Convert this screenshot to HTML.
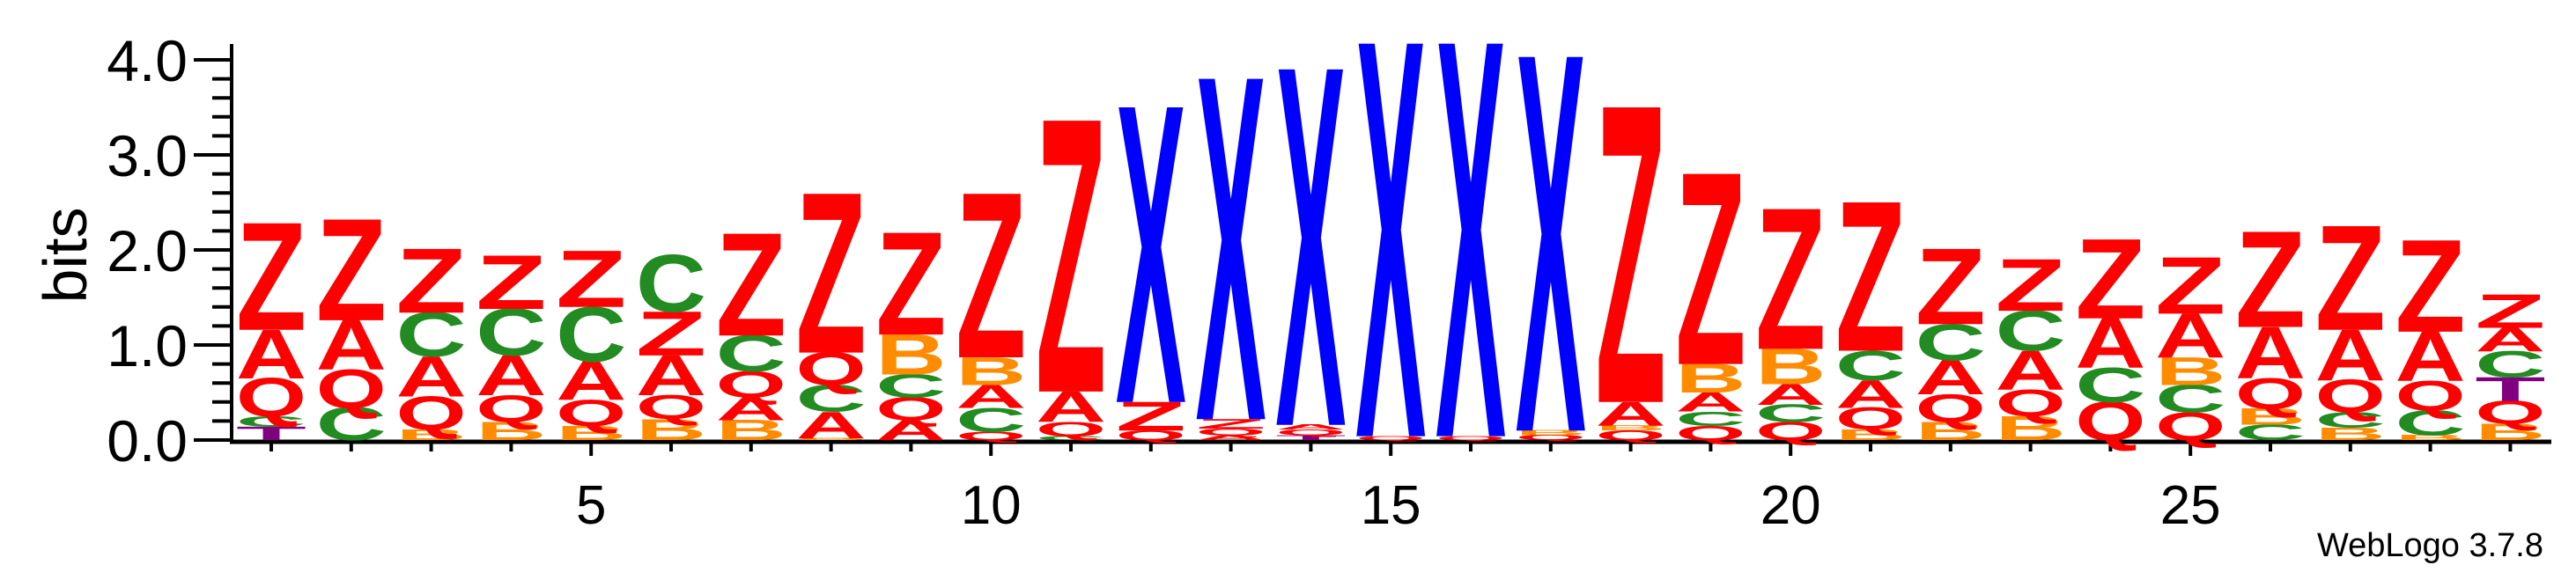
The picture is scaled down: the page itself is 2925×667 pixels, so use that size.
<!DOCTYPE html>
<html><head><meta charset="utf-8"><style>
html,body{margin:0;padding:0;background:#fff;}
svg{display:block;}
text{font-family:"Liberation Sans",Arial,sans-serif;}
</style></head><body>
<svg id="chart" width="2925" height="667" viewBox="0 0 2925 667" xmlns="http://www.w3.org/2000/svg">
<g id="axes"></g>
<g id="marks"></g>
<text x="0" y="0" font-size="70" text-anchor="middle" transform="translate(98,290) rotate(-90)">bits</text>
<text x="2888" y="632" font-size="38" text-anchor="end">WebLogo 3.7.8</text>
</svg>
<script>
// Letter stacks (bottom -> top) per position
const positions = [1,2,3,4,5,6,7,8,9,10,11,12,13,14,15,16,17,18,19,20,21,22,23,24,25,26,27,28,29];
const stackLetters = [
 ["T","C","Q","A","Z"],
 ["C","Q","A","Z"],
 ["B","Q","A","C","Z"],
 ["B","Q","A","C","Z"],
 ["B","Q","A","C","Z"],
 ["B","Q","A","Z","C"],
 ["B","A","Q","C","Z"],
 ["B","A","C","Q","Z"],
 ["A","Q","C","B","Z"],
 ["Q","C","A","B","Z"],
 ["C","Q","A","Z"],
 ["Q","Z","X"],
 ["A","Q","Z","X"],
 ["T","Q","A","X"],
 ["Q","X"],
 ["Q","X"],
 ["Q","B","X"],
 ["Q","B","A","Z"],
 ["Q","C","A","B","Z"],
 ["Q","C","A","B","Z"],
 ["B","Q","A","C","Z"],
 ["B","Q","A","C","Z"],
 ["B","Q","A","C","Z"],
 ["Q","C","A","Z"],
 ["Q","C","B","A","Z"],
 ["C","B","Q","A","Z"],
 ["B","C","Q","A","Z"],
 ["B","C","Q","A","Z"],
 ["B","Q","T","C","A","Z"]
];
const stackHeights = [
 [0.14,0.11,0.40,0.51,1.12],
 [0.34,0.40,0.52,1.06],
 [0.11,0.35,0.42,0.46,0.67],
 [0.19,0.28,0.42,0.49,0.56],
 [0.15,0.27,0.41,0.57,0.59],
 [0.22,0.25,0.42,0.46,0.59],
 [0.21,0.24,0.27,0.38,1.07],
 [0.02,0.28,0.28,0.34,1.67],
 [0.21,0.24,0.24,0.42,1.07],
 [0.09,0.25,0.24,0.29,1.72],
 [0.04,0.15,0.32,2.85],
 [0.10,0.30,3.10],
 [0.05,0.07,0.10,3.58],
 [0.05,0.06,0.05,3.74],
 [0.04,4.13],
 [0.04,4.13],
 [0.05,0.05,3.93],
 [0.10,0.05,0.25,3.10],
 [0.15,0.15,0.20,0.30,2.00],
 [0.19,0.18,0.22,0.37,1.47],
 [0.11,0.23,0.29,0.31,1.56],
 [0.19,0.29,0.36,0.38,0.79],
 [0.25,0.28,0.41,0.42,0.54],
 [0.40,0.36,0.52,0.83],
 [0.29,0.29,0.29,0.46,0.59],
 [0.16,0.17,0.32,0.54,1.00],
 [0.13,0.16,0.34,0.53,1.09],
 [0.05,0.26,0.31,0.52,0.96],
 [0.17,0.24,0.25,0.27,0.25,0.35]
];
const yTicks = [0,1,2,3,4];
const yTickLabels = ["0.0","1.0","2.0","3.0","4.0"];
const xTickLabels = [5,10,15,20,25];

const colors = {Z:"#ff0000",A:"#ff0000",Q:"#ff0000",C:"#228b22",B:"#ff8c00",T:"#800080",X:"#0000ff"};
const X0 = 308, DX = 90.8, Y0 = 500, PXB = 108, LW = 80;
function xScale(p){ return X0 + (p-1)*DX; }
function yScale(b){ return Y0 - b*PXB; }
const NS = "http://www.w3.org/2000/svg";
const axes = document.getElementById('axes');
const marks = document.getElementById('marks');
function mk(tag, attrs, parent){ const e=document.createElementNS(NS,tag); for(const k in attrs) e.setAttribute(k,attrs[k]); parent.appendChild(e); return e; }

let yl = mk('line',{x1:263,y1:50,x2:263,y2:Y0+2,stroke:'#000','stroke-width':4},axes);


for(let v=0; v<=4.0001; v+=0.2){
  const major = Math.abs(v-Math.round(v))<1e-6;
  const t = mk('line',{x1: major?220:241, y1:yScale(v), x2:263, y2:yScale(v), stroke:'#000','stroke-width':4},axes);
  
  
}
yTicks.forEach((v,i)=>{
  const t = mk('text',{x:213,y:yScale(v)+24,'font-size':66,'text-anchor':'end'},axes);
  t.textContent = yTickLabels[i];
  
  
});
let xl = mk('line',{x1:261,y1:Y0+2,x2:2897,y2:Y0+2,stroke:'#000','stroke-width':5},axes);


positions.forEach(p=>{
  const major = xTickLabels.includes(p);
  const t = mk('line',{x1:xScale(p),y1:Y0+2,x2:xScale(p),y2:Y0+(major?18:13),stroke:'#000','stroke-width':4},axes);
  
  
});
xTickLabels.forEach(p=>{
  const t = mk('text',{x:xScale(p),y:595,'font-size':62,'text-anchor':'middle'},axes);
  t.textContent = String(p);
  
  
});
const CAP = 68.8;
positions.forEach((p,i)=>{
  let cum = 0;
  const cx = xScale(p);
  stackLetters[i].forEach((L,j)=>{
    const h = stackHeights[i][j];
    const yb = yScale(cum);
    const hp = h*PXB;
    cum += h;
    if(hp < 0.5) return;
    const g = mk('g',{transform:`translate(${cx-LW/2},${yb}) scale(1,${hp/CAP})`},marks);
    const t = mk('text',{x:0,y:0,'font-size':100,'font-weight':'bold',fill:colors[L],textLength:LW,lengthAdjust:'spacingAndGlyphs'},g);
    t.textContent = L;
    
    
  });
});
</script>
</body></html>
